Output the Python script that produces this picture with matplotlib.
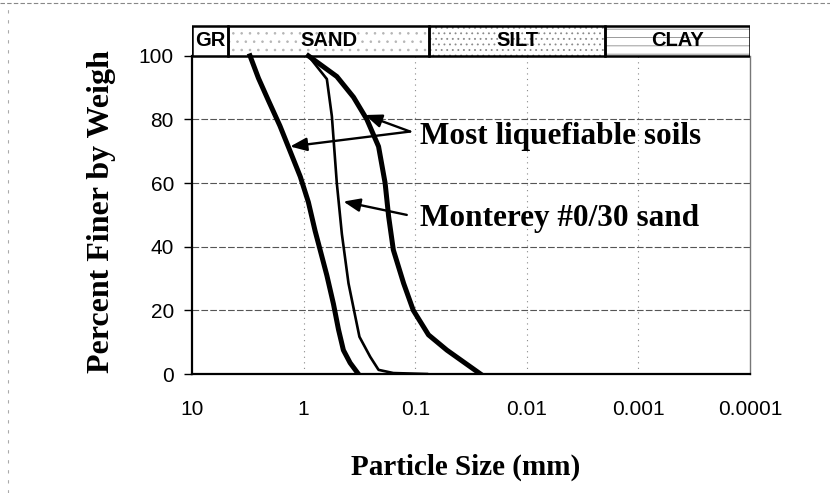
import matplotlib
matplotlib.use("Agg")
import matplotlib.pyplot as plt
from matplotlib.patches import Rectangle
from matplotlib.lines import Line2D

# ---- data ----
coarse_size = [3.02, 2.54, 2.07, 1.63, 1.32, 1.07, 0.906, 0.789, 0.711, 0.619, 0.540, 0.487, 0.440, 0.383, 0.323]
coarse_pct = [100, 93, 86, 78, 70, 62, 54, 45, 39, 31, 22, 14, 7.5, 3.5, 0]

fine_size = [0.906, 0.504, 0.357, 0.271, 0.213, 0.186, 0.173, 0.157, 0.127, 0.104, 0.076, 0.052, 0.026]
fine_pct = [100, 93.5, 87, 80, 71.5, 60, 49.5, 39, 28.5, 20, 12.3, 7.5, 0]

monterey_size = [0.906, 0.619, 0.558, 0.504, 0.454, 0.396, 0.316, 0.253, 0.213, 0.157, 0.0785]
monterey_pct = [100, 92.7, 81, 60, 44, 28.5, 11.7, 5.4, 1.3, 0.3, 0]

band_names = ["GR", "SAND", "SILT", "CLAY"]
band_edges = [10, 4.75, 0.075, 0.002, 0.0001]
band_hatches = ["", "..", "...", "--"]
band_hatch_colors = ["white", "#b5b5b5", "#8a8a8a", "#8a8a8a"]

x_ticks = [10, 1, 0.1, 0.01, 0.001, 0.0001]
x_ticklabels = ["10", "1", "0.1", "0.01", "0.001", "0.0001"]
y_ticks = [0, 20, 40, 60, 80, 100]

# ---- figure ----
fig = plt.figure(figsize=(8.3, 4.93), dpi=100)
ax = fig.add_axes([192/830, 1-374/493, (750-192)/830, (374-24)/493])
ax.set_xscale("log")
ax.set_xlim(10, 0.0001)
ax.set_ylim(0, 110)

sans = "Liberation Sans"
serif = "Liberation Serif"

# grid
for yv in [20, 40, 60, 80]:
    ax.axhline(yv, color="#555555", lw=0.8, ls=(0, (6, 2)), zorder=1)
for xv in [1, 0.1, 0.01, 0.001]:
    ax.plot([xv, xv], [0, 100], color="#888888", lw=0.8, ls=(0, (1, 4)), zorder=1)

# band
plt.rcParams["hatch.linewidth"] = 0.6
band_h = 9.4
for i, name in enumerate(band_names):
    x0, x1 = band_edges[i], band_edges[i+1]
    if band_hatches[i]:
        ax.add_patch(Rectangle((x0, 100), x1 - x0, band_h, facecolor="white",
                               edgecolor=band_hatch_colors[i], lw=0,
                               hatch=band_hatches[i], zorder=3))
    ax.add_patch(Rectangle((x0, 100), x1 - x0, band_h, fill=False, edgecolor="black",
                           lw=1.8, zorder=4))
    xc = (x0 * x1) ** 0.5
    ax.text(xc, 100 + band_h / 2, name, ha="center", va="center", fontsize=14.5,
            fontweight="bold", family=sans, zorder=5)

# curves
ax.plot(coarse_size, coarse_pct, color="black", lw=3.6, zorder=6, solid_joinstyle="round")
ax.plot(fine_size, fine_pct, color="black", lw=3.6, zorder=6, solid_joinstyle="round")
ax.plot(monterey_size, monterey_pct, color="black", lw=1.9, zorder=6)

# annotations
arrow = dict(arrowstyle="-|>,head_length=1.0,head_width=0.4", color="black", lw=1.7,
             shrinkA=0, shrinkB=0)
ax.annotate("", xy=(0.281, 81.4), xytext=(0.111, 76.2), arrowprops=arrow, zorder=7)
ax.annotate("", xy=(1.32, 71.5), xytext=(0.111, 76.2), arrowprops=arrow, zorder=7)
ax.annotate("", xy=(0.44, 54.2), xytext=(0.119, 50.0), arrowprops=arrow, zorder=7)
ax.text(0.0902, 74.5, "Most liquefiable soils", ha="left", va="center",
        fontsize=22.5, fontweight="bold", family=serif, zorder=7)
ax.text(0.0902, 49.0, "Monterey #0/30 sand", ha="left", va="center",
        fontsize=22.5, fontweight="bold", family=serif, zorder=7)

# axes styling
ax.set_xticks(x_ticks)
ax.set_xticklabels(x_ticklabels, family=sans, fontsize=15)
ax.xaxis.set_minor_locator(matplotlib.ticker.NullLocator())
ax.tick_params(axis="x", length=0, pad=19)
ax.set_yticks(y_ticks)
ax.set_yticklabels([str(v) for v in y_ticks], family=sans, fontsize=15)
ax.tick_params(axis="y", length=6, width=1, direction="out", pad=7)
ax.spines["top"].set_visible(False)
ax.spines["left"].set_linewidth(1.6)
ax.spines["bottom"].set_linewidth(1.6)
ax.spines["right"].set_color("#777777")
ax.spines["right"].set_linestyle((0, (1, 1)))
ax.spines["right"].set_linewidth(1.0)
ax.spines["left"].set_bounds(0, 100)
ax.spines["right"].set_bounds(0, 100)

fig.text(466/830, 1-467/493, "Particle Size (mm)", ha="center", va="center",
         fontsize=21, fontweight="bold", family=serif)
fig.text(101/830, 1-212/493, "Percent Finer by Weigh", ha="center", va="center",
         rotation=90, fontsize=23, fontweight="bold", family=serif)

# outer chart border (dashed)
fig.add_artist(Line2D([0, 1], [1-3/493, 1-3/493], transform=fig.transFigure,
                      color="#888888", lw=0.8, ls=(0, (4, 2))))
fig.add_artist(Line2D([8/830, 8/830], [0, 1-3/493], transform=fig.transFigure,
                      color="#aaaaaa", lw=0.8, ls=(0, (3, 6))))

fig.savefig("out.png", dpi=100)
